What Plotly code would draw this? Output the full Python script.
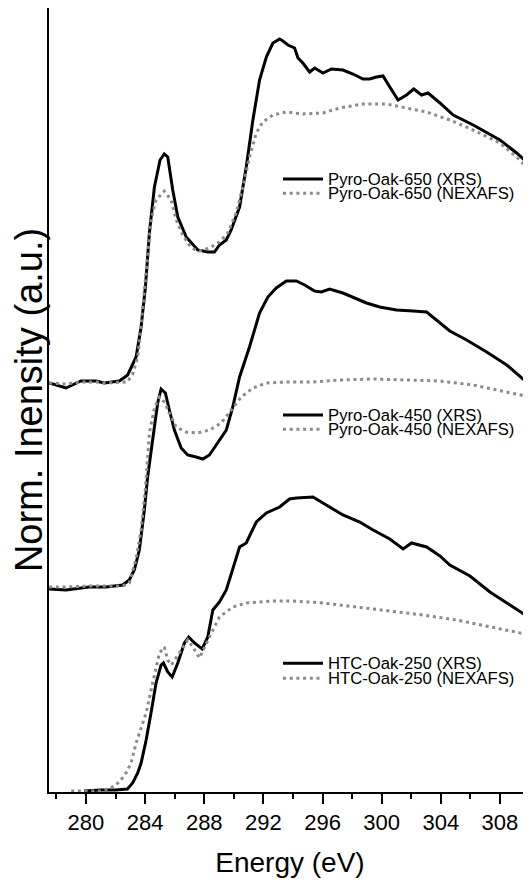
import plotly.graph_objects as go

# ---------------- data (energy in eV, normalized intensity with vertical offsets, a.u.) -------------
e_650_xrs = [277.51, 278.65, 279.66, 280.68, 281.24, 282.26, 282.82, 283.39, 283.73, 284.02, 284.29,
             284.63, 285.01, 285.30, 285.53, 285.87, 286.21, 286.78, 287.56, 288.24, 288.69, 289.03,
             289.49, 289.82, 290.39, 290.84, 291.29, 291.74, 292.20, 292.64, 293.10, 293.32, 293.66,
             294.11, 294.34, 294.67, 295.13, 295.47, 296.03, 296.60, 297.38, 298.06, 298.74, 299.19,
             299.65, 300.09, 300.55, 301.11, 301.68, 302.17, 302.70, 303.14, 303.94, 304.84, 306.19,
             308.00, 309.13, 310.03]
i_650_xrs = [4.09, 4.04, 4.11, 4.11, 4.09, 4.11, 4.17, 4.35, 4.65, 5.05, 5.59,
             6.05, 6.32, 6.38, 6.35, 6.02, 5.75, 5.55, 5.42, 5.40, 5.40, 5.47,
             5.52, 5.62, 5.85, 6.25, 6.72, 7.12, 7.35, 7.49, 7.53, 7.51, 7.47,
             7.44, 7.34, 7.29, 7.20, 7.24, 7.19, 7.23, 7.22, 7.18, 7.13, 7.13,
             7.15, 7.16, 7.05, 6.92, 6.97, 7.03, 6.97, 6.99, 6.89, 6.77, 6.67,
             6.52, 6.39, 6.27]

e_650_nex = [277.51, 278.65, 279.66, 280.68, 281.24, 282.26, 282.80, 283.16, 283.50, 283.83, 284.40,
             284.74, 285.30, 285.76, 286.10, 286.54, 287.11, 287.68, 288.35, 289.03, 289.59, 290.16,
             290.61, 291.06, 291.52, 291.96, 292.64, 293.55, 294.67, 296.03, 297.16, 298.74, 300.33,
             301.68, 303.04, 304.61, 306.19, 308.00, 309.36, 310.03]
i_650_nex = [4.09, 4.08, 4.10, 4.10, 4.09, 4.10, 4.10, 4.18, 4.35, 4.82, 5.72,
             5.92, 6.01, 5.92, 5.72, 5.57, 5.44, 5.41, 5.44, 5.50, 5.59, 5.79,
             6.05, 6.35, 6.59, 6.70, 6.77, 6.80, 6.78, 6.79, 6.84, 6.88, 6.88,
             6.84, 6.80, 6.72, 6.62, 6.49, 6.32, 6.20]

e_450_xrs = [277.51, 278.65, 280.22, 281.36, 282.48, 282.93, 283.27, 283.61, 283.95, 284.17, 284.51,
             284.85, 285.08, 285.37, 285.64, 285.98, 286.44, 286.88, 287.45, 287.90, 288.35, 288.92,
             289.49, 289.93, 290.39, 291.06, 291.74, 292.30, 292.87, 293.55, 294.23, 294.79, 295.47,
             295.92, 296.48, 297.38, 298.06, 298.97, 299.87, 301.00, 302.13, 303.04, 304.61, 305.75,
             307.10, 308.46, 310.03]
i_450_xrs = [2.03, 2.02, 2.05, 2.05, 2.07, 2.12, 2.22, 2.42, 2.82, 3.15, 3.52,
             3.89, 4.03, 3.99, 3.82, 3.62, 3.44, 3.37, 3.35, 3.33, 3.37, 3.49,
             3.62, 3.85, 4.15, 4.45, 4.79, 4.95, 5.04, 5.11, 5.11, 5.07, 5.01,
             5.00, 5.03, 4.99, 4.95, 4.89, 4.85, 4.82, 4.81, 4.80, 4.61, 4.52,
             4.40, 4.27, 4.07]

e_450_nex = [277.51, 278.65, 280.22, 281.36, 282.48, 282.93, 283.39, 283.73, 284.02, 284.29, 284.63,
             284.97, 285.30, 285.64, 286.10, 286.78, 287.56, 288.35, 289.15, 289.93, 290.50, 291.29,
             292.20, 293.55, 295.35, 297.16, 299.42, 301.68, 303.94, 306.19, 308.46, 310.03]
i_450_nex = [2.05, 2.05, 2.06, 2.06, 2.06, 2.09, 2.33, 2.62, 3.03, 3.59, 3.84,
             3.95, 3.90, 3.79, 3.65, 3.60, 3.59, 3.62, 3.69, 3.84, 3.95, 4.04,
             4.09, 4.10, 4.10, 4.12, 4.13, 4.12, 4.11, 4.07, 4.00, 3.95]

e_250_xrs = [279.88, 281.00, 282.00, 282.80, 283.16, 283.50, 283.73, 284.07, 284.40, 284.74, 285.08,
             285.24, 285.53, 285.83, 286.21, 286.66, 286.95, 287.34, 287.86, 288.24, 288.58, 289.03,
             289.49, 289.93, 290.39, 290.84, 291.52, 292.20, 293.10, 293.77, 294.23, 295.35, 296.26,
             297.38, 298.52, 299.42, 300.55, 301.45, 302.02, 303.04, 303.94, 304.61, 305.97, 307.32,
             308.68, 310.03]
i_250_xrs = [0.01, 0.02, 0.02, 0.03, 0.09, 0.19, 0.29, 0.52, 0.79, 1.09, 1.27,
             1.29, 1.20, 1.15, 1.29, 1.49, 1.55, 1.49, 1.43, 1.55, 1.82, 1.90,
             2.02, 2.22, 2.45, 2.49, 2.70, 2.79, 2.85, 2.93, 2.94, 2.95, 2.87,
             2.77, 2.70, 2.62, 2.53, 2.43, 2.49, 2.45, 2.36, 2.27, 2.16, 2.00,
             1.87, 1.74]

e_250_nex = [279.00, 280.50, 281.00, 281.69, 282.26, 282.71, 283.05, 283.39, 284.07, 284.51, 284.97,
             285.30, 285.53, 285.78, 286.21, 286.88, 287.27, 287.68, 288.35, 289.03, 289.93, 290.84,
             292.64, 294.00, 296.03, 298.29, 300.55, 302.80, 305.07, 307.32, 310.03]
i_250_nex = [0.01, 0.01, 0.01, 0.04, 0.10, 0.19, 0.29, 0.49, 0.79, 1.09, 1.39,
             1.45, 1.32, 1.27, 1.37, 1.52, 1.44, 1.34, 1.55, 1.75, 1.85, 1.89,
             1.91, 1.91, 1.89, 1.85, 1.81, 1.77, 1.72, 1.65, 1.57]

series_names = ["Pyro-Oak-650 (XRS)", "Pyro-Oak-650 (NEXAFS)",
                "Pyro-Oak-450 (XRS)", "Pyro-Oak-450 (NEXAFS)",
                "HTC-Oak-250 (XRS)", "HTC-Oak-250 (NEXAFS)"]
x_ticks = [280, 284, 288, 292, 296, 300, 304, 308]

# ---------------- styling ----------------
FONT = "Liberation Sans, Arial, Helvetica, sans-serif"
XRS_STYLE = dict(color="#000000", width=3)
NEX_STYLE = dict(color="#8a8a8a", width=3, dash="3px,3.7px")

series = [
    (e_650_xrs, i_650_xrs, XRS_STYLE),
    (e_650_nex, i_650_nex, NEX_STYLE),
    (e_450_xrs, i_450_xrs, XRS_STYLE),
    (e_450_nex, i_450_nex, NEX_STYLE),
    (e_250_xrs, i_250_xrs, XRS_STYLE),
    (e_250_nex, i_250_nex, NEX_STYLE),
]

fig = go.Figure()
for (ex, iy, st), name in zip(series, series_names):
    fig.add_trace(go.Scatter(x=ex, y=iy, mode="lines", name=name, line=st,
                             showlegend=False, hoverinfo="x+y+name"))

# page has an 8px body margin; figure is sized so the plot lands where the reference has it
OFF = 8
FIG_W, FIG_H = 531 - OFF, 880 - OFF
L, T, W, H = 49 - OFF, 8 - OFF, 482, 784

def px_x(p):  # page pixel -> paper fraction
    return (p - OFF - L) / W

def px_y(p):
    return (T + H - (p - OFF)) / H

# manual legends (three blocks, one per sample), rows placed as in the reference
legend_rows = [179, 193.3, 415, 429.3, 663.3, 678.3]
for (ex, iy, st), name, ry in zip(series, series_names, legend_rows):
    fig.add_shape(type="line", xref="paper", yref="paper",
                  x0=px_x(283), x1=px_x(323), y0=px_y(ry), y1=px_y(ry),
                  line=st)
    fig.add_annotation(xref="paper", yref="paper", x=px_x(326), y=px_y(ry),
                       xanchor="left", yanchor="middle", showarrow=False,
                       text=name, font=dict(family=FONT, size=16.7, color="#000000"))

fig.update_layout(
    width=FIG_W, height=FIG_H,
    margin=dict(l=L, r=FIG_W - L - W, t=T, b=FIG_H - T - H, pad=0),
    paper_bgcolor="white", plot_bgcolor="white",
    font=dict(family=FONT, color="#000000"),
    showlegend=False,
)
fig.update_xaxes(
    range=[277.5, 310.1], showgrid=False, zeroline=False,
    showline=True, linecolor="#000000", linewidth=2,
    ticks="outside", ticklen=10, tickwidth=2, tickcolor="#000000",
    tickmode="array", tickvals=x_ticks, ticktext=[str(v) for v in x_ticks],
    tickfont=dict(family=FONT, size=22, color="#000000"),
    minor=dict(dtick=2, tick0=278, ticks="outside", ticklen=5, tickwidth=2, tickcolor="#000000"),
    title=dict(text="Energy (eV)", font=dict(family=FONT, size=28, color="#000000"), standoff=18),
    automargin=False,
)
fig.update_yaxes(
    range=[0, 7.84], showgrid=False, zeroline=False,
    showline=True, linecolor="#000000", linewidth=2,
    ticks="", showticklabels=False,
    title=dict(text="Norm. Inensity (a.u.)", font=dict(family=FONT, size=38, color="#000000"), standoff=10),
    automargin=False,
)

fig.write_html("out.html")
